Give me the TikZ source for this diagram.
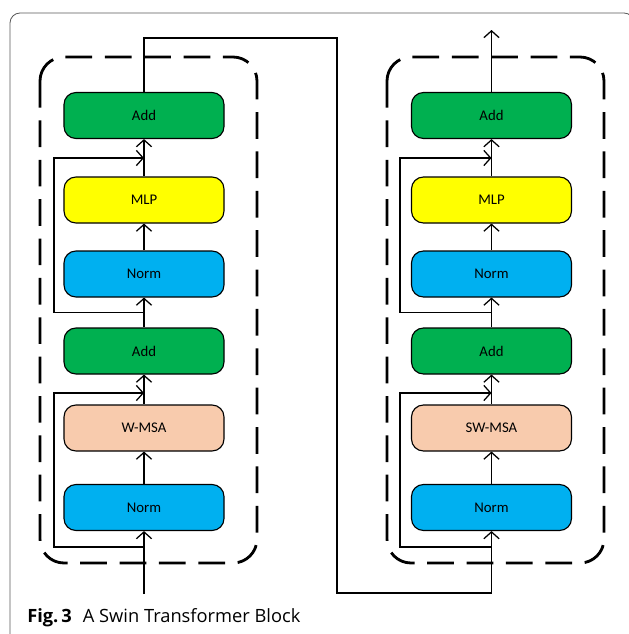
\documentclass[tikz,border=0pt]{standalone}
\usepackage{fontspec}
\setmainfont{Carlito}
\newfontfamily\capfont{Open Sans}
\usepackage{xcolor}
\usetikzlibrary{arrows.meta, positioning, calc}

\definecolor{addgreen}{HTML}{00B050}
\definecolor{mlpyellow}{HTML}{FFFF00}
\definecolor{normblue}{HTML}{00B0F0}
\definecolor{msapeach}{HTML}{F8CBAD}

\begin{document}
\begin{tikzpicture}[x=0.025cm, y=-0.025cm,
    blk/.style={draw, line width=0.8pt, rounded corners=0.3cm,
        minimum width=4cm, minimum height=1.15cm, inner sep=0pt, font=\fontsize{10.5}{12}\selectfont},
    arr/.style={-{Straight Barb[length=1.7mm, width=3.8mm]}, line width=0.9pt},
    grp/.style={draw, line width=2pt, dash pattern=on 19pt off 9pt, rounded corners=0.6cm}]
    \useasboundingbox (0,0) rectangle (629,634);
    % frame of the figure
    \begin{scope}
        \clip (0,0) rectangle (629,634);
        \draw[black!65, line width=0.6pt, rounded corners=0.25cm] (10,700) -- (10,13) -- (634,13) -- (634,700);
    \end{scope}
    % dashed groups
    \draw[grp] (40,57) rectangle (257,563);
    \draw[grp] (387,57) rectangle (604,563);
    % left block
    \node[blk, fill=addgreen] (add1) at (144,115.5) {Add};
    \node[blk, fill=mlpyellow] (mlp1) at (144,200) {MLP};
    \node[blk, fill=normblue] (norm1b) at (144,274) {Norm};
    \node[blk, fill=addgreen] (add1a) at (144,351) {Add};
    \node[blk, fill=msapeach] (msa1) at (144,428) {W-MSA};
    \node[blk, fill=normblue] (norm1a) at (144,507.5) {Norm};
    % right block
    \node[blk, fill=addgreen] (add2) at (491.5,115.5) {Add};
    \node[blk, fill=mlpyellow] (mlp2) at (491.5,200) {MLP};
    \node[blk, fill=normblue] (norm2b) at (491.5,274) {Norm};
    \node[blk, fill=addgreen] (add2a) at (491.5,351) {Add};
    \node[blk, fill=msapeach] (msa2) at (491.5,428) {SW-MSA};
    \node[blk, fill=normblue] (norm2a) at (491.5,507.5) {Norm};
    % branch points
    \coordinate (in1) at (144,594);
    \coordinate (b1) at (144,547);
    \coordinate (j1) at (144,393);
    \coordinate (b2) at (144,312.5);
    \coordinate (j2) at (144,158);
    \coordinate (b3) at (491.5,547);
    \coordinate (j3) at (491.5,393);
    \coordinate (b4) at (491.5,312.5);
    \coordinate (j4) at (491.5,158);
    \coordinate (out2) at (491.5,30);
    % left wires
    \draw[arr] (in1) -- (norm1a);
    \draw[arr] (norm1a) -- (msa1);
    \draw[arr] (msa1) -- (add1a);
    \draw[arr] (b1) -- (54,547) |- (j1);
    \draw[arr] (add1a) -- (norm1b);
    \draw[arr] (norm1b) -- (mlp1);
    \draw[arr] (mlp1) -- (add1);
    \draw[arr] (b2) -- (54,312.5) |- (j2);
    % link between the blocks
    \draw[arr] (add1) |- (337,38) |- (491.5,593) -- (norm2a);
    % right wires
    \draw[arr] (norm2a) -- (msa2);
    \draw[arr] (msa2) -- (add2a);
    \draw[arr] (b3) -- (400,547) |- (j3);
    \draw[arr] (add2a) -- (norm2b);
    \draw[arr] (norm2b) -- (mlp2);
    \draw[arr] (mlp2) -- (add2);
    \draw[arr] (b4) -- (400,312.5) |- (j4);
    \draw[arr] (add2) -- (out2);
    % caption
    \node[anchor=base west, inner sep=0pt, font=\capfont\fontsize{13}{15}\selectfont] (cap) at (27,622)
        {\textbf{Fig.\,3}\hspace{0.6em}A Swin Transformer Block};
\end{tikzpicture}
\end{document}
